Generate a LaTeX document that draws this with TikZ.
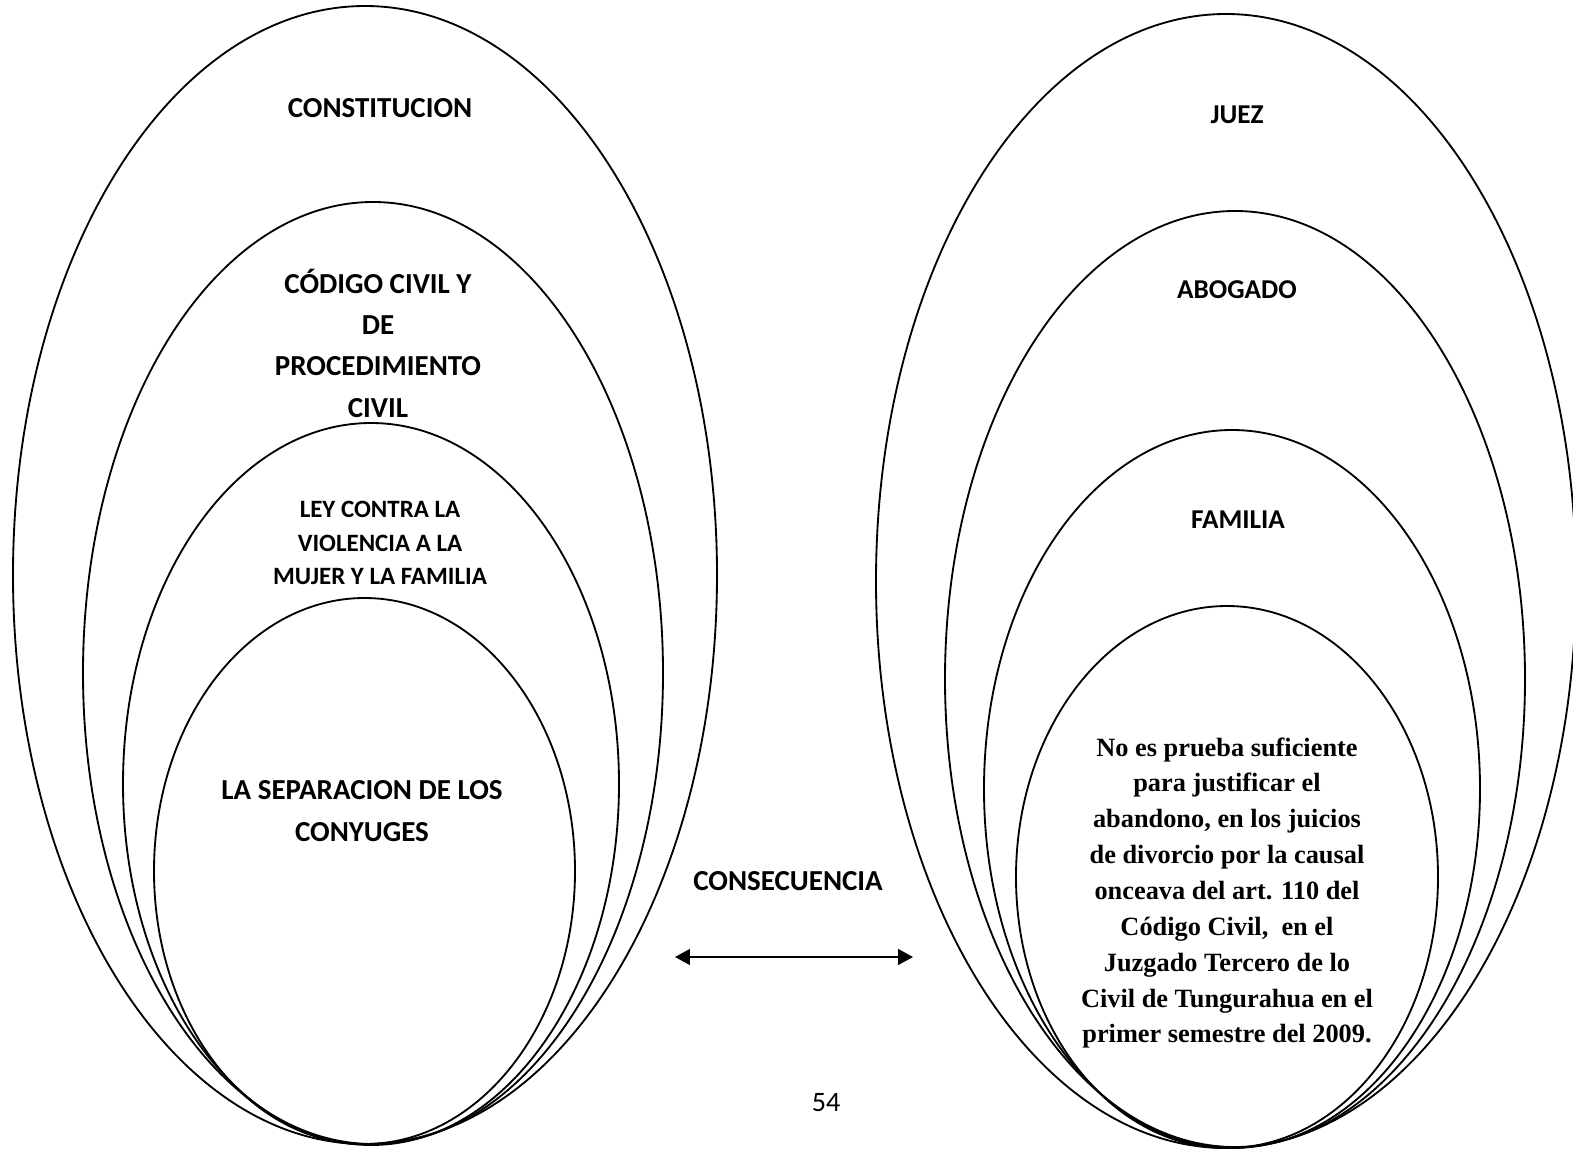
\documentclass[tikz,border=0pt]{standalone}
\usepackage{fontspec}
\setmainfont{Liberation Serif}
\newfontfamily\calibri{Carlito}
\usetikzlibrary{arrows.meta, positioning}

\begin{document}
\begin{tikzpicture}[x=0.02cm,y=-0.02cm,every node/.style={anchor=center,align=center,inner sep=0pt},
    ring/.style={line width=1.05pt},
    titulo/.style={font=\calibri\bfseries\fontsize{16.5pt}{23.5pt}\selectfont},
    nivel/.style={font=\calibri\bfseries\fontsize{15.5pt}{20pt}\selectfont},
    menor/.style={font=\calibri\bfseries\fontsize{14.2pt}{19pt}\selectfont},
    efecto/.style={font=\bfseries\fontsize{15pt}{20.4pt}\selectfont}]
    \useasboundingbox (0,0) rectangle (1573,1150);
    % left group
    \foreach \cx/\cy/\rx/\ry in {365/575/352/569, 373/673/290/471, 371/784/248/361, 364.5/871/210.5/273} {
        \draw[ring] (\cx,\cy) ellipse [x radius=\rx, y radius=\ry];
    }
    % right group
    \foreach \cx/\cy/\rx/\ry in {1226/581/350/567, 1235/679/290/468, 1232/789/248/359, 1227/877/211/271} {
        \draw[ring] (\cx,\cy) ellipse [x radius=\rx, y radius=\ry];
    }
    \node[titulo] (constitucion) at (380,108) {CONSTITUCION};
    \node[titulo] (codigo) at (378,343) {CÓDIGO CIVIL Y\\DE\\PROCEDIMIENTO\\CIVIL};
    \node[menor] (ley) at (380,543) {LEY CONTRA LA\\VIOLENCIA A LA\\MUJER Y LA FAMILIA};
    \node[titulo] (separacion) at (362,811) {LA SEPARACION DE LOS\\CONYUGES};
    \node[nivel] (juez) at (1237,115) {JUEZ};
    \node[nivel] (abogado) at (1237,290) {ABOGADO};
    \node[nivel] (familia) at (1238,520) {FAMILIA};
    \node[efecto] (prueba) at (1227,893) {No es prueba suficiente\\para justificar el\\abandono, en los juicios\\de divorcio por la causal\\onceava del art. 110 del\\Código Civil,\ \ en el\\Juzgado Tercero de lo\\Civil de Tungurahua en el\\primer semestre del 2009.};
    \node[titulo] (consecuencia) at (788,881) {CONSECUENCIA};
    \coordinate (izq) at (675,957);
    \coordinate (der) at (913,957);
    \draw[{Triangle[length=8.5pt,width=9pt]}-{Triangle[length=8.5pt,width=9pt]},line width=1.1pt] (izq) -- (der);
    \node[font=\calibri\fontsize{16pt}{19pt}\selectfont] (pagina) at (826,1103) {54};
\end{tikzpicture}
\end{document}
